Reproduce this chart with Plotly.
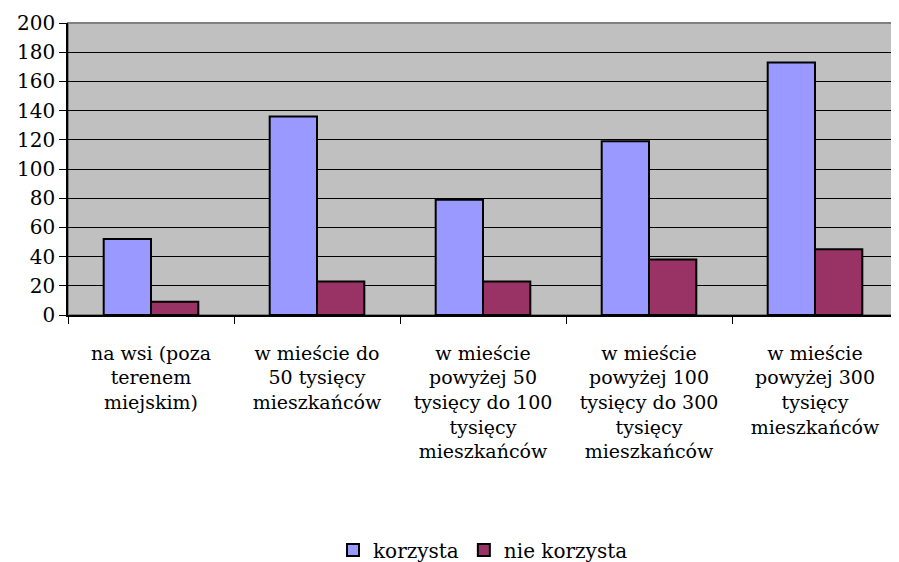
import plotly.graph_objects as go

categories = [
    "na wsi (poza<br>terenem<br>miejskim)",
    "w mieście do<br>50 tysięcy<br>mieszkańców",
    "w mieście<br>powyżej 50<br>tysięcy do 100<br>tysięcy<br>mieszkańców",
    "w mieście<br>powyżej 100<br>tysięcy do 300<br>tysięcy<br>mieszkańców",
    "w mieście<br>powyżej 300<br>tysięcy<br>mieszkańców",
]
korzysta = [52, 136, 79, 119, 173]
nie_korzysta = [9, 23, 23, 38, 45]
y_ticks = [0, 20, 40, 60, 80, 100, 120, 140, 160, 180, 200]

font = "DejaVu Serif"

fig = go.Figure()
fig.add_trace(go.Bar(x=categories, y=korzysta, name="korzysta",
                     marker=dict(color="#9999FF", line=dict(color="black", width=2))))
fig.add_trace(go.Bar(x=categories, y=nie_korzysta, name="nie korzysta",
                     marker=dict(color="#993366", line=dict(color="black", width=2))))

# page body has an 8px margin, so everything is shifted by 8px
fig.update_layout(
    width=899, height=562,
    margin=dict(l=60, r=9, t=15, b=255, autoexpand=False),
    paper_bgcolor="white", plot_bgcolor="#C0C0C0",
    font=dict(family=font, size=19, color="black"),
    barmode="group", bargap=0.43, bargroupgap=0,
    showlegend=True,
    legend=dict(orientation="h", x=0.5, xanchor="center", y=-0.805, yanchor="middle",
                font=dict(family=font, size=20), itemwidth=30, tracegroupgap=0),
    shapes=[dict(type="rect", xref="paper", yref="paper", x0=0, x1=1, y0=0, y1=1,
                 line=dict(color="#808080", width=2), layer="below")],
)
fig.update_xaxes(showline=True, linecolor="black", linewidth=1.5, ticks="outside",
                 tickson="boundaries", ticklen=7, tickcolor="black", automargin=False,
                 tickangle=0, ticklabelstandoff=20, tickfont=dict(family=font, size=19))
fig.update_yaxes(range=[0, 200], tickvals=y_ticks, showgrid=True, gridcolor="black",
                 gridwidth=1, showline=True, linecolor="black", linewidth=1.5,
                 ticks="outside", ticklen=7, tickcolor="black", zeroline=False,
                 automargin=False, tickfont=dict(family=font, size=20))

fig.write_html("out.html")
